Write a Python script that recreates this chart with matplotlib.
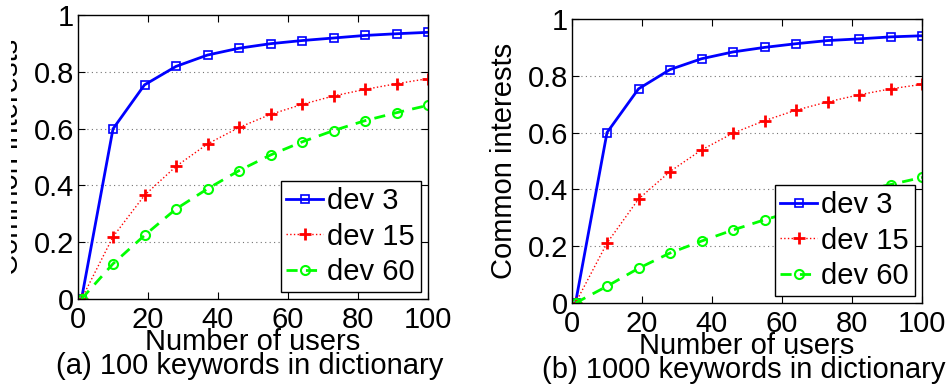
import matplotlib

matplotlib.use("Agg")
import matplotlib.pyplot as plt
from matplotlib.patches import Rectangle

plt.rcParams["font.family"] = ["Liberation Sans", "DejaVu Sans"]

users = [1, 10, 19, 28, 37, 46, 55, 64, 73, 82, 91, 100]

# (a) 100 keywords
a_dev3 = [0.0, 0.599, 0.754, 0.819, 0.859, 0.883, 0.899, 0.910, 0.919, 0.928, 0.934, 0.939]
a_dev15 = [0.0, 0.219, 0.365, 0.467, 0.546, 0.604, 0.650, 0.685, 0.715, 0.738, 0.758, 0.776]
a_dev60 = [0.0, 0.124, 0.224, 0.317, 0.388, 0.452, 0.507, 0.553, 0.593, 0.628, 0.656, 0.682]

# (b) 1000 keywords
b_dev3 = [0.0, 0.600, 0.754, 0.822, 0.860, 0.884, 0.900, 0.913, 0.924, 0.930, 0.937, 0.941]
b_dev15 = [0.0, 0.211, 0.366, 0.463, 0.539, 0.598, 0.642, 0.679, 0.708, 0.733, 0.754, 0.770]
b_dev60 = [0.0, 0.059, 0.122, 0.176, 0.218, 0.257, 0.293, 0.325, 0.360, 0.393, 0.417, 0.442]

series_labels = ["dev 3", "dev 15", "dev 60"]
captions = ["(a) 100 keywords in dictionary", "(b) 1000 keywords in dictionary"]

W, H = 950, 385
FS = 21


def draw_panel(ax, dev3, dev15, dev60, caption):
    ax.plot(users, dev3, color="#0000ff", linewidth=2, marker="s", markersize=6,
            markerfacecolor="none", markeredgewidth=1.2, label=series_labels[0])
    ax.plot(users, dev15, color="#ff0000", linewidth=1, linestyle=":", marker="+",
            markersize=8, markeredgewidth=2, label=series_labels[1])
    ax.plot(users, dev60, color="#00ff00", linewidth=2, linestyle=(0, (4, 3)), marker="o",
            markersize=6.5, markerfacecolor="none", markeredgewidth=1.5, label=series_labels[2])
    ax.set_xlim(0, 100)
    ax.set_ylim(0, 1)
    ax.set_xticks([0, 20, 40, 60, 80, 100])
    ax.set_yticks([0, 0.2, 0.4, 0.6, 0.8, 1])
    ax.set_yticklabels(["0", "0.2", "0.4", "0.6", "0.8", "1"])
    ax.tick_params(direction="in", top=True, right=True, labelsize=FS, length=5, width=0.8)
    ax.tick_params(axis="y", pad=3)
    ax.tick_params(axis="x", pad=5)
    for y in [0.2, 0.4, 0.6, 0.8]:
        ax.axhline(y, color="0.45", linestyle=(0, (1, 3)), linewidth=0.8, zorder=0)
    for spine in ax.spines.values():
        spine.set_linewidth(1.0)
    ax.set_ylabel("Common interests", fontsize=FS)
    ax.yaxis.set_label_coords(-0.153, 0.5)
    ax.text(0.5, -0.15, "Number of users", transform=ax.transAxes, fontsize=FS,
            ha="center", va="center")
    ax.text(0.49, -0.235, caption, transform=ax.transAxes, fontsize=FS,
            ha="center", va="center")
    leg = ax.legend(loc="lower right", fontsize=FS, handlelength=1.25, handletextpad=0.15,
                    labelspacing=0.25, borderpad=0.2, borderaxespad=0.25, fancybox=False,
                    framealpha=1)
    leg.get_frame().set_edgecolor("black")
    leg.get_frame().set_linewidth(1.0)


fig = plt.figure(figsize=(W / 100, H / 100), dpi=100)
ax1 = fig.add_axes([78 / W, (H - 299) / H, 350 / W, 284 / H])
ax2 = fig.add_axes([572 / W, (H - 303) / H, 350 / W, 284 / H])

draw_panel(ax1, a_dev3, a_dev15, a_dev60, captions[0])
draw_panel(ax2, b_dev3, b_dev15, b_dev60, captions[1])

# the original figure is cropped just inside the left panel's y label
fig.patches.append(Rectangle((0, 0), 11 / W, 1, transform=fig.transFigure,
                             facecolor="white", edgecolor="none", zorder=10))

fig.savefig("out.png", dpi=100)
